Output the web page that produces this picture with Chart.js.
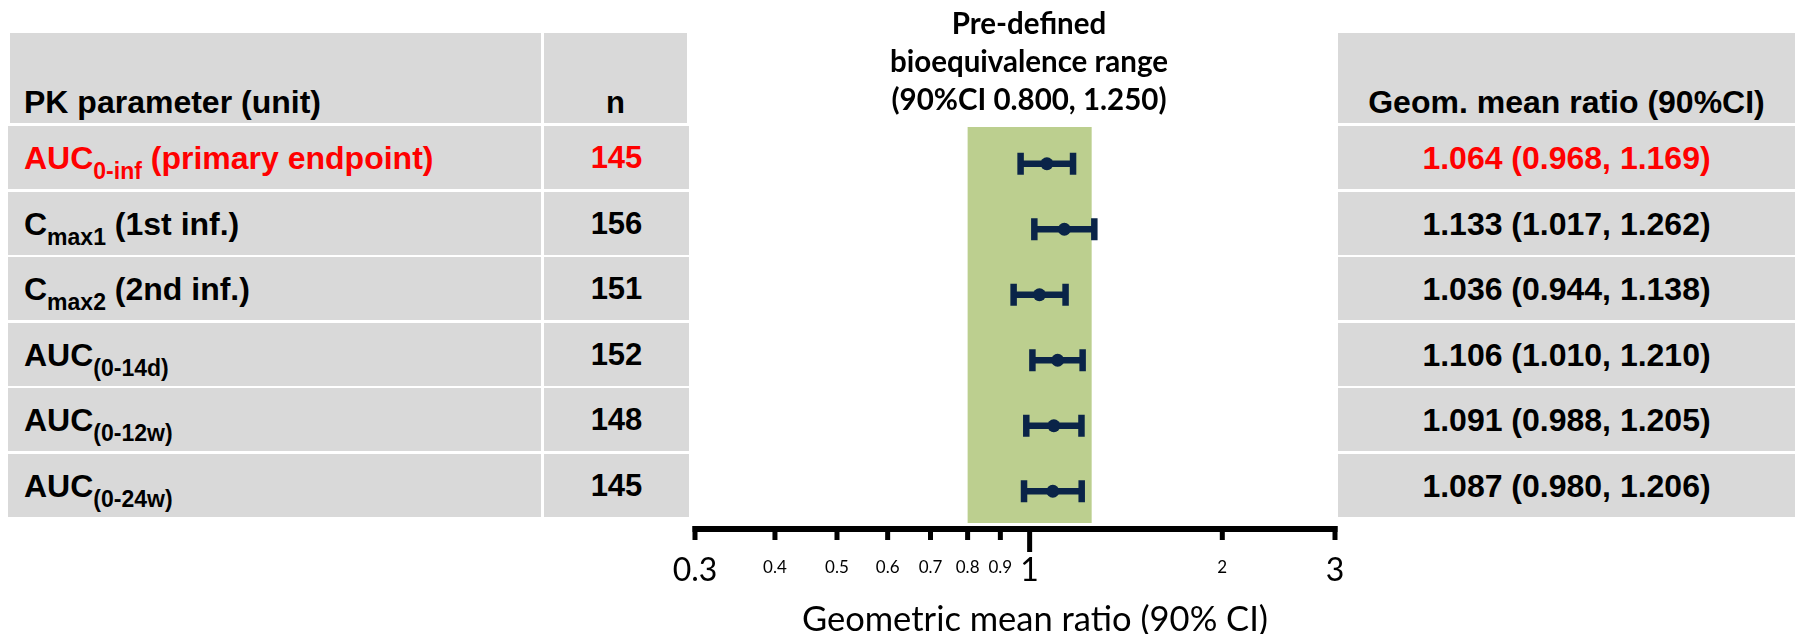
<!DOCTYPE html>
<html>
<head>
<meta charset="utf-8">
<script src="https://cdn.jsdelivr.net/npm/chart.js@4.4.1/dist/chart.umd.min.js"></script>
<style>
  html, body { margin: 0; padding: 0; background: #fff; }
  #wrap { position: relative; width: 1795px; height: 634px; overflow: hidden; }
  #chart { position: absolute; left: 0; top: 0; }
  .cell {
    position: absolute; background: #d9d9d9; box-sizing: border-box;
    font-family: "Liberation Sans", Arial, sans-serif; font-weight: bold; color: #000;
    display: flex; align-items: center; line-height: 1; white-space: pre;
  }
  .cell.head { align-items: flex-end; padding-bottom: 5px; }
  .cell.left { padding-left: 16px; font-size: 32px; }
  .cell.left.head { padding-left: 14px; font-size: 32px; }
  .cell.mid { justify-content: center; font-size: 31px; }
  .cell.right { justify-content: center; font-size: 32px; }
  .cell.hl { color: #ff0000; }
  .cell sub { font-size: 23px; vertical-align: baseline; position: relative; top: 10px; }
  #title {
    position: absolute; left: 829px; top: 4px; width: 400px; text-align: center;
    font-family: Lato, "Open Sans", sans-serif; font-weight: bold; font-size: 29.5px; line-height: 38px; color: #000;
  }
  #xtitle {
    position: absolute; left: 735px; top: 598px; width: 600px; text-align: center;
    font-family: Lato, "Open Sans", sans-serif; font-size: 34.5px; line-height: 40px; color: #000; white-space: nowrap;
  }
</style>
</head>
<body>
<div id="wrap">
  <canvas id="chart" width="1795" height="634"></canvas>
  <div id="title">Pre-defined<br>bioequivalence range<br>(90%CI 0.800, 1.250)</div>
  <div id="xtitle">Geometric mean ratio (90% CI)</div>
</div>
<script>
// rows of the table / forest plot
const paramNames = ['AUC', 'C', 'C', 'AUC', 'AUC', 'AUC'];
const paramSubs = ['0-inf', 'max1', 'max2', '(0-14d)', '(0-12w)', '(0-24w)'];
const paramNotes = [' (primary endpoint)', ' (1st inf.)', ' (2nd inf.)', '', '', ''];
const nValues = [145, 156, 151, 152, 148, 145];
const gmr = [1.064, 1.133, 1.036, 1.106, 1.091, 1.087];
const ciLow = [0.968, 1.017, 0.944, 1.010, 0.988, 0.980];
const ciHigh = [1.169, 1.262, 1.138, 1.210, 1.205, 1.206];
const highlightRow = 0;

const beRange = [0.8, 1.25];
const tickValues = [0.3, 0.4, 0.5, 0.6, 0.7, 0.8, 0.9, 1, 2, 3];
const bigTicks = [0.3, 1, 3];

const categories = paramNames.map((p, i) => p + paramSubs[i]);
const navy = '#0a2448';

// table cells
const wrap = document.getElementById('wrap');
function addCell(cls, left, top, width, height, html) {
    const d = document.createElement('div');
    d.className = 'cell ' + cls;
    d.style.left = left + 'px';
    d.style.top = top + 'px';
    d.style.width = width + 'px';
    d.style.height = height + 'px';
    d.innerHTML = '<span>' + html + '</span>';
    wrap.appendChild(d);
}

addCell('head left', 10, 33, 531, 90, 'PK parameter (unit)');
addCell('head mid', 544, 33, 143, 90, 'n');
addCell('head right', 1338, 33, 457, 90, 'Geom. mean ratio (90%CI)');

const rowTop = 126, rowStep = 65.6, rowH = 63;
categories.forEach((c, i) => {
    const top = Math.round(rowTop + i * rowStep);
    const hl = i === highlightRow ? ' hl' : '';
    addCell('left' + hl, 8, top, 533, rowH, paramNames[i] + '<sub>' + paramSubs[i] + '</sub>' + paramNotes[i]);
    addCell('mid' + hl, 544, top, 145, rowH, String(nValues[i]));
    addCell('right' + hl, 1338, top, 457, rowH,
        gmr[i].toFixed(3) + ' (' + ciLow[i].toFixed(3) + ', ' + ciHigh[i].toFixed(3) + ')');
});

// green band for the bioequivalence range
const bandPlugin = {
    id: 'beBand',
    beforeDatasetsDraw(chart) {
        const {ctx, chartArea, scales: {x}} = chart;
        const x1 = x.getPixelForValue(beRange[0]);
        const x2 = x.getPixelForValue(beRange[1]);
        ctx.save();
        ctx.fillStyle = '#bccf8f';
        ctx.fillRect(x1, chartArea.top - 4, x2 - x1, chartArea.bottom - chartArea.top + 3);
        ctx.restore();
    }
};

// thick axis line with tick marks
const axisPlugin = {
    id: 'axisRule',
    afterDraw(chart) {
        const {ctx, chartArea, scales: {x}} = chart;
        const y0 = chartArea.bottom + 2;
        const xa = x.getPixelForValue(tickValues[0]);
        const xb = x.getPixelForValue(tickValues[tickValues.length - 1]);
        ctx.save();
        ctx.fillStyle = '#000';
        ctx.fillRect(xa - 2.5, y0, xb - xa + 5, 6);
        tickValues.forEach(v => {
            const px = x.getPixelForValue(v);
            ctx.fillRect(px - 2.5, y0, 5, v === 1 ? 26 : 14);
        });
        ctx.restore();
    }
};

new Chart(document.getElementById('chart'), {
    type: 'bar',
    data: {
        labels: categories,
        datasets: [{
            type: 'scatter',
            label: 'GMR',
            data: gmr.map((v, i) => ({x: v, y: categories[i]})),
            pointStyle: 'circle',
            pointRadius: 6.5,
            backgroundColor: navy,
            borderWidth: 0,
            order: 1
        }, {
            type: 'scatter',
            label: 'caps',
            data: ciLow.map((v, i) => ({x: v, y: categories[i]}))
                .concat(ciHigh.map((v, i) => ({x: v, y: categories[i]}))),
            pointStyle: 'line',
            rotation: 90,
            pointRadius: 11,
            borderColor: navy,
            borderWidth: 6.5,
            order: 2
        }, {
            label: '90% CI',
            data: ciLow.map((v, i) => [v, ciHigh[i]]),
            backgroundColor: navy,
            barThickness: 6,
            borderSkipped: false,
            order: 3
        }]
    },
    options: {
        responsive: false,
        animation: false,
        indexAxis: 'y',
        layout: {padding: {left: 695, right: 460, top: 131, bottom: 0}},
        plugins: {legend: {display: false}, tooltip: {enabled: false}},
        scales: {
            y: {type: 'category', offset: true, display: false},
            x: {
                type: 'logarithmic',
                min: 0.3,
                max: 3,
                afterBuildTicks: (scale) => {
                    scale.ticks = tickValues.map(v => ({value: v}));
                },
                afterFit: (scale) => {
                    scale.height = 110;
                },
                grid: {display: false, drawTicks: false},
                border: {display: false},
                ticks: {
                    autoSkip: false,
                    maxRotation: 0,
                    padding: 20,
                    color: '#000',
                    callback: (v) => String(v),
                    font: (ctx) => {
                        const big = ctx.tick && bigTicks.includes(ctx.tick.value);
                        return big ? {family: 'Lato', size: 32, lineHeight: 1.6875}
                                   : {family: 'Lato', size: 17, lineHeight: 2.8};
                    }
                },
                title: {display: false}
            }
        }
    },
    plugins: [bandPlugin, axisPlugin]
});
</script>
</body>
</html>
